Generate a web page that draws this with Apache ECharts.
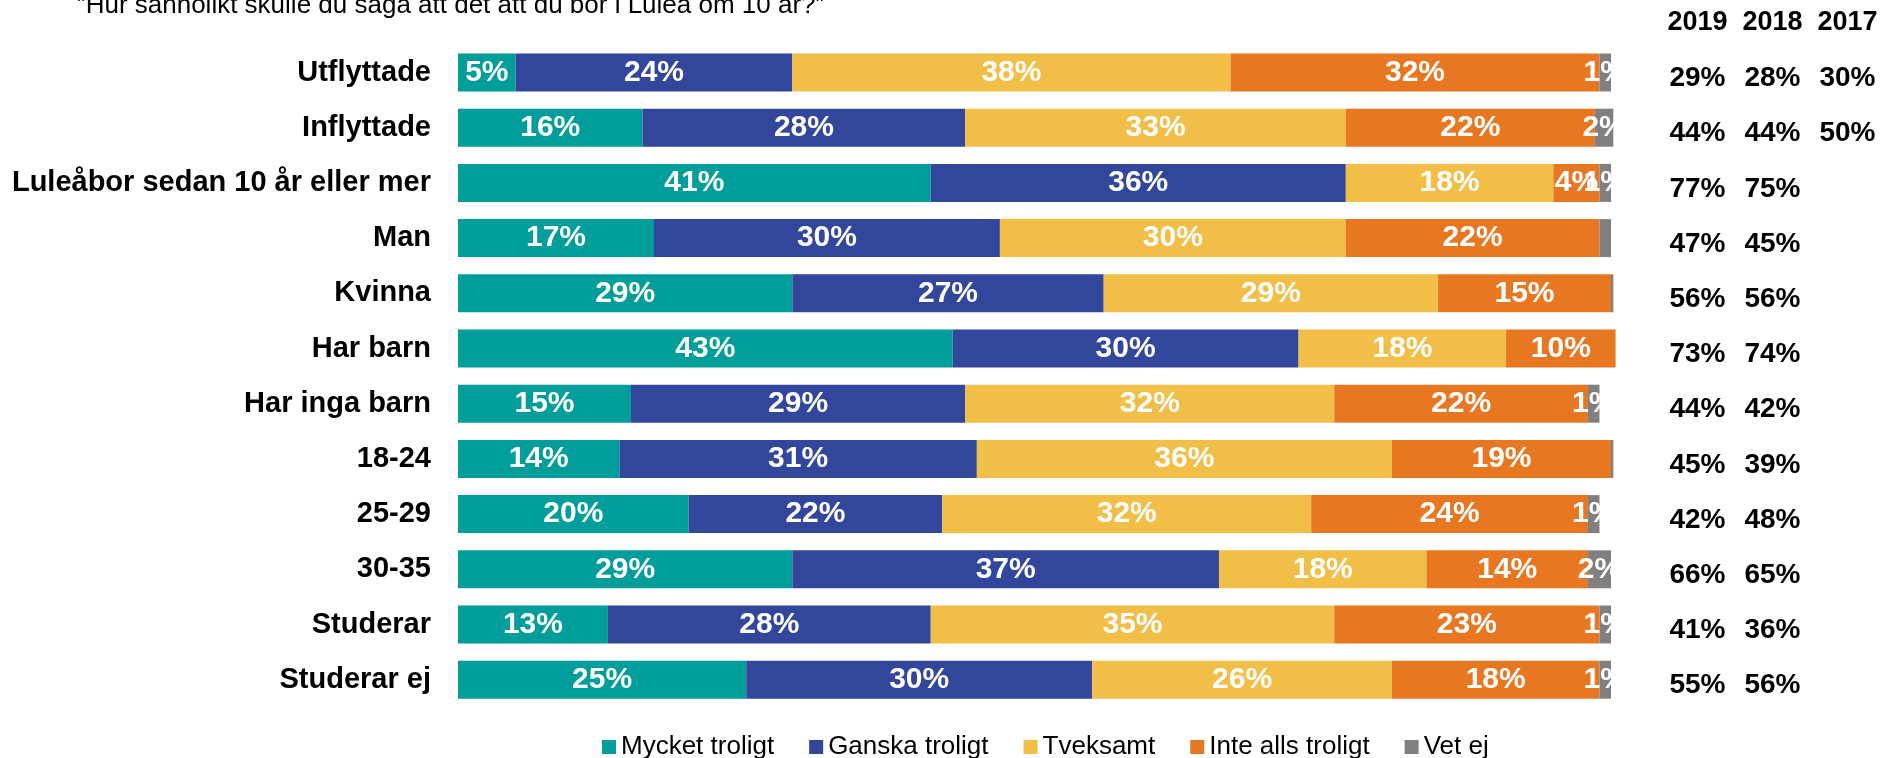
<!DOCTYPE html>
<html>
<head>
<meta charset="utf-8">
<script src="https://cdn.jsdelivr.net/npm/echarts@6/dist/echarts.min.js"></script>
<style>
  html, body { margin: 0; padding: 0; background: #fff; }
  #chart { width: 1883px; height: 758px; }
</style>
</head>
<body>
<div id="chart"></div>
<script>
(() => {
    const FONT = "'Liberation Sans', Arial, sans-serif";

    const categories = ['Utflyttade', 'Inflyttade', 'Luleåbor sedan 10 år eller mer', 'Man', 'Kvinna',
        'Har barn', 'Har inga barn', '18-24', '25-29', '30-35', 'Studerar', 'Studerar ej'];
    const seriesNames = ['Mycket troligt', 'Ganska troligt', 'Tveksamt', 'Inte alls troligt', 'Vet ej'];
    const colors = ['#009D9A', '#32479B', '#F1BE48', '#E87722', '#808080'];

    // shares in percent
    const mycket   = [5, 16, 41, 17, 29, 42.9, 15, 14, 20, 29, 13, 25];
    const ganska   = [24, 28, 36, 30, 27, 30, 29, 31, 22, 37, 28, 30];
    const tveksamt = [38, 33, 18, 30, 29, 18, 32, 36, 32, 18, 35, 26];
    const inteAlls = [32, 21.6, 4, 22, 15, 9.5, 22, 19, 24, 14, 23, 18];
    const vetEj    = [1, 1.6, 1, 1, 0.2, 0, 1, 0.2, 1, 2, 1, 1];
    const noLabel  = ['Man'];   // rows where the small Vet ej label is not printed

    // right hand table: mycket + ganska troligt per year
    const years = ['2019', '2018', '2017'];
    const y2019 = [29, 44, 77, 47, 56, 73, 44, 45, 42, 66, 41, 55];
    const y2018 = [28, 44, 75, 45, 56, 74, 42, 39, 48, 65, 36, 56];
    const y2017 = [30, 50, null, null, null, null, null, null, null, null, null, null];

    const values = [mycket, ganska, tveksamt, inteAlls, vetEj];

    const el = document.getElementById('chart');
    const chart = echarts.init(el);

    const cell = size => ({ width: 75, align: 'center', fontSize: size, fontWeight: 'bold', color: '#000', fontFamily: FONT });
    const headRich = { a: cell(27), b: cell(27), c: cell(27) };
    const colRich = { a: cell(28), b: cell(28), c: cell(28) };
    const pct = v => (v == null ? '' : v + '%');

    const series = values.map((vals, s) => ({
        name: seriesNames[s],
        type: 'bar',
        stack: 'total',
        barWidth: 38,
        clip: false,
        itemStyle: { color: colors[s] },
        label: {
            show: true,
            position: 'inside',
            color: '#fff',
            fontSize: 30,
            fontWeight: 'bold',
            fontFamily: FONT,
            formatter: p => Math.round(p.value) + '%'
        },
        data: vals.map((v, i) => ({
            value: v,
            label: { show: v >= 0.5 && !(s === 4 && noLabel.includes(categories[i])) }
        }))
    }));

    const option = {
        animation: false,
        title: [
            {
                text: '”Hur sannolikt skulle du säga att det att du bor i Luleå om 10 år?”',
                left: 77, top: -7, padding: 0,
                textStyle: { fontSize: 26, fontWeight: 'normal', color: '#000', fontFamily: FONT, lineHeight: 26 }
            },
            {
                text: years.map((y, k) => '{' + 'abc'[k] + '|' + y + '}').join(''),
                left: 1660, top: 8, padding: 0,
                textStyle: { lineHeight: 30, rich: headRich }
            }
        ],
        legend: {
            data: seriesNames,
            left: 597,
            top: 729,
            icon: 'rect',
            itemWidth: 14,
            itemHeight: 14,
            itemGap: 35,
            textStyle: { fontSize: 26, color: '#000', fontFamily: FONT }
        },
        grid: { left: 458, top: 44.9, width: 1153, height: 662.4 },
        xAxis: { type: 'value', min: 0, max: 100, show: false },
        yAxis: [
            {
                type: 'category',
                data: categories,
                inverse: true,
                axisLine: { show: false },
                axisTick: { show: false },
                axisLabel: { margin: 27, fontSize: 29, fontWeight: 'bold', color: '#000', fontFamily: FONT }
            },
            {
                type: 'category',
                data: categories,
                inverse: true,
                position: 'right',
                axisLine: { show: false },
                axisTick: { show: false },
                axisLabel: {
                    margin: 49,
                    align: 'left',
                    padding: [12, 0, 0, 0],
                    formatter: (v, i) => '{a|' + pct(y2019[i]) + '}{b|' + pct(y2018[i]) + '}{c|' + pct(y2017[i]) + '}',
                    rich: colRich
                }
            }
        ],
        series: series
    };
    chart.setOption(option);
})();
</script>
</body>
</html>
